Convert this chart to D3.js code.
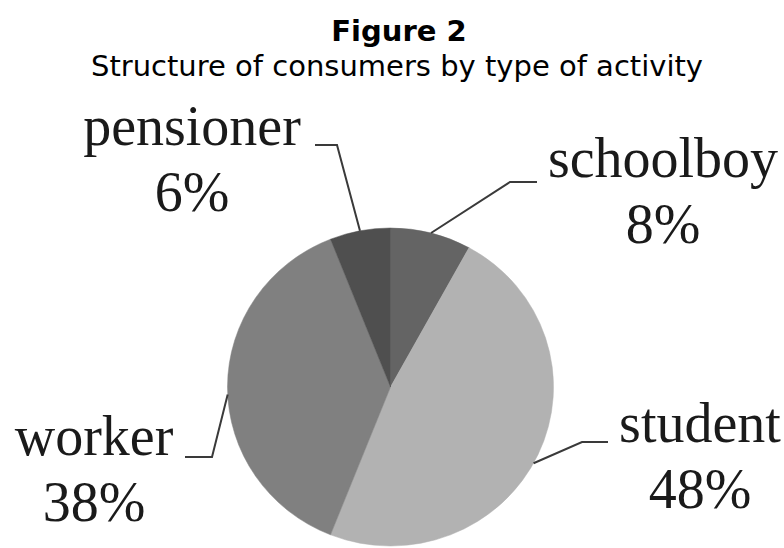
<!DOCTYPE html>
<html>
<head>
<meta charset="utf-8">
<style>
  body { margin: 0; background: #fff; }
  .title { font-family: "DejaVu Sans", Verdana, sans-serif; fill: #000; }
  .lbl { font-family: "Liberation Serif", "Times New Roman", serif; fill: #1a1a1a; }
</style>
</head>
<body>
<script src="https://cdnjs.cloudflare.com/ajax/libs/d3/7.8.5/d3.min.js"></script>
<script>
  // data, in drawing order (clockwise from 12 o'clock)
  const categories = ['schoolboy', 'student', 'worker', 'pensioner'];
  const shares = [8, 48, 38, 6];
  const sliceColors = ['#646464', '#b2b2b2', '#808080', '#4f4f4f'];

  const width = 784, height = 548;
  const cx = 390.5, cy = 387, rx = 163, ry = 159;

  // where each label block sits (centre x, baseline of first line) and the elbow of its leader
  const labelPos = {
    schoolboy: { x: 663, y: 177, elbow: [[537, 182], [510, 182]], rim: 0.5 },
    student:   { x: 700, y: 442, elbow: [[608, 442], [582, 442]], rim: 0.52 },
    worker:    { x: 94,  y: 455, elbow: [[185, 457], [212, 457]], rim: 0.48 },
    pensioner: { x: 192, y: 145, elbow: [[315, 145], [337, 145]], rim: 0.5 }
  };

  const data = categories.map((c, i) => ({ name: c, value: shares[i], color: sliceColors[i] }));

  const svg = d3.select('body').append('svg')
    .attr('width', width)
    .attr('height', height);

  svg.append('text')
    .attr('class', 'title')
    .attr('x', 399).attr('y', 41)
    .attr('text-anchor', 'middle')
    .style('font-size', '29px')
    .style('font-weight', 'bold')
    .text('Figure 2');

  svg.append('text')
    .attr('class', 'title')
    .attr('x', 397).attr('y', 76)
    .attr('text-anchor', 'middle')
    .style('font-size', '29px')
    .text('Structure of consumers by type of activity');

  const pie = d3.pie().sort(null).value(d => d.value);
  const arcs = pie(data);
  const arc = d3.arc().innerRadius(0).outerRadius(rx);

  const g = svg.append('g')
    .attr('transform', `translate(${cx},${cy}) scale(1,${ry / rx})`);

  g.selectAll('path')
    .data(arcs)
    .enter().append('path')
      .attr('d', arc)
      .attr('fill', d => d.data.color)
      .attr('stroke', d => d.data.color)
      .attr('stroke-width', 0.5);

  // leader lines: label elbow -> point on the rim inside the slice
  const rimPoint = d => {
    const f = labelPos[d.data.name].rim;
    const a = d.startAngle + (d.endAngle - d.startAngle) * f;
    return [cx + rx * Math.sin(a), cy - ry * Math.cos(a)];
  };

  svg.selectAll('polyline.leader')
    .data(arcs)
    .enter().append('polyline')
      .attr('class', 'leader')
      .attr('points', d => {
        const p = labelPos[d.data.name].elbow.concat([rimPoint(d)]);
        return p.map(q => q.join(',')).join(' ');
      })
      .attr('fill', 'none')
      .attr('stroke', '#3a3a3a')
      .attr('stroke-width', 2);

  const labels = svg.selectAll('text.lbl')
    .data(arcs)
    .enter().append('text')
      .attr('class', 'lbl')
      .attr('text-anchor', 'middle')
      .style('font-size', '56px');

  labels.append('tspan')
    .attr('x', d => labelPos[d.data.name].x)
    .attr('y', d => labelPos[d.data.name].y)
    .text(d => d.data.name);

  labels.append('tspan')
    .attr('x', d => labelPos[d.data.name].x)
    .attr('y', d => labelPos[d.data.name].y + 66)
    .text(d => d.data.value + '%');
</script>
</body>
</html>
